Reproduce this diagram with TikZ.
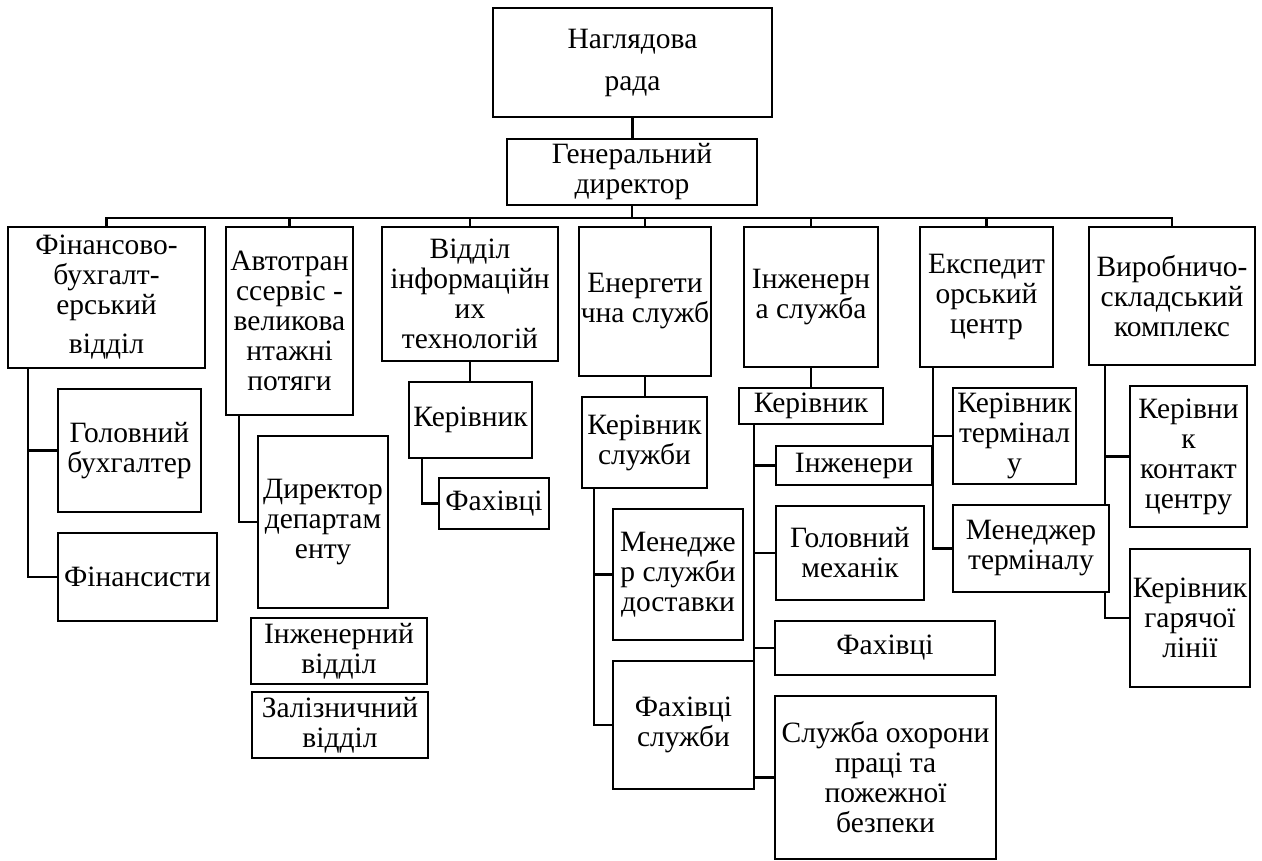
\documentclass[tikz,border=0pt]{standalone}
\usepackage{fontspec}
\setmainfont{Liberation Serif}
\usetikzlibrary{backgrounds}

\begin{document}
\begin{tikzpicture}[
  x=1pt, y=-1pt,
  box/.style={draw, fill=white, line width=2.5pt, align=center, inner sep=1pt,
              font=\fontsize{29.5}{30}\selectfont},
  sz/.style 2 args={minimum width=#1pt, minimum height=#2pt},
  link/.style={line width=2.5pt},
]
\useasboundingbox (0,0) rectangle (1262,861);
% top
\node[box, sz={279}{109}] (rada) at (632.5,62.5) {Наглядова\\[12pt]рада};
\node[box, sz={250}{66}] (gen) at (632,172) {Генеральний\\директор};
% departments
\node[box, sz={197}{141}] (fin) at (106.5,297.5) {Фінансово-\\бухгалт-\\ерський\\[9pt]відділ};
\node[box, sz={127}{188}] (avto) at (289.5,321) {Автотран\\ссервіс -\\великова\\нтажні\\потяги};
\node[box, sz={176}{134}] (it) at (470,294) {Відділ\\інформаційн\\их\\технологій};
\node[box, sz={132}{149}] (energ) at (645,301.5) {Енергети\\чна служб};
\node[box, sz={134}{140}] (inzh) at (811,297) {Інженерн\\а служба};
\node[box, sz={133}{140}] (exp) at (986.5,297) {Експедит\\орський\\центр};
\node[box, sz={166}{138}] (vyr) at (1172,296) {Виробничо-\\складський\\комплекс};
% finance
\node[box, sz={143}{123}] (golbuh) at (129.5,450.5) {Головний\\бухгалтер};
\node[box, sz={159}{88}] (finans) at (137.5,577) {Фінансисти};
% autotrans
\node[box, sz={130}{172}] (dir) at (323,522) {Директор\\департам\\енту};
\node[box, sz={176}{66}] (inzhvid) at (339,651) {Інженерний\\відділ};
\node[box, sz={176}{66}] (zaliz) at (340,725) {Залізничний\\відділ};
% IT
\node[box, sz={123}{76}] (kerit) at (470.5,420) {Керівник};
\node[box, sz={110}{51}] (fahit) at (494,503.5) {Фахівці};
% energy
\node[box, sz={125}{91}] (kersl) at (644.5,442.5) {Керівник\\служби};
\node[box, sz={130}{131}] (mendost) at (678,574.5) {Менедже\\р служби\\доставки};
\node[box, sz={141}{128}] (fahsl) at (683.5,725) {Фахівці\\служби};
% engineering
\node[box, sz={144}{36}] (kerinzh) at (811,406) {Керівник};
\node[box, sz={156}{39}] (inzhenery) at (854,465.5) {Інженери};
\node[box, sz={148}{94}] (golmeh) at (850,553) {Головний\\механік};
\node[box, sz={220}{54}] (fahinzh) at (885,648) {Фахівці};
\node[box, sz={221}{163}] (ohorona) at (885.5,777.5) {Служба охорони\\праці та\\пожежної\\безпеки};
% forwarding
\node[box, sz={123}{96}] (kerterm) at (1014.5,436) {Керівник\\термінал\\у};
\node[box, sz={156}{87}] (menterm) at (1031,548.5) {Менеджер\\терміналу};
% warehouse
\node[box, sz={117}{141}] (kontakt) at (1188.5,456.5) {Керівни\\к\\контакт\\центру};
\node[box, sz={120}{138}] (garyach) at (1190,618) {Керівник\\гарячої\\лінії};
% trunks
\coordinate (finT) at (28,368);
\coordinate (avtoT) at (239,415);
\coordinate (itT) at (422,458);
\coordinate (energT) at (594,488);
\coordinate (inzhT) at (754,424);
\coordinate (expT) at (933,367);
\coordinate (vyrT) at (1105,365);
\begin{pgfonlayer}{background}
\draw[link] (rada.south) -- (rada.south |- gen.north);
\foreach \d in {fin,avto,it,energ,inzh,exp,vyr}
  \draw[link] (gen.south) -- ++(0,12) -| (\d.north);
\draw[link] (finT) |- (golbuh.west);
\draw[link] (finT) |- (finans.west);
\draw[link] (avtoT) |- (dir.west);
\draw[link] (it.south) -- (it.south |- kerit.north);
\draw[link] (itT) |- (fahit.west);
\draw[link] (energ.south) -- (energ.south |- kersl.north);
\draw[link] (energT) |- (mendost.west);
\draw[link] (energT) |- (fahsl.west);
\draw[link] (inzh.south) -- (kerinzh.north);
\foreach \d in {inzhenery,golmeh,fahinzh,ohorona}
  \draw[link] (inzhT) |- (\d.west);
\draw[link] (expT) |- (kerterm.west);
\draw[link] (expT) |- (menterm.west);
\draw[link] (vyrT) |- (kontakt.west);
\draw[link] (vyrT) |- (garyach.west);
\end{pgfonlayer}
\end{tikzpicture}
\end{document}
